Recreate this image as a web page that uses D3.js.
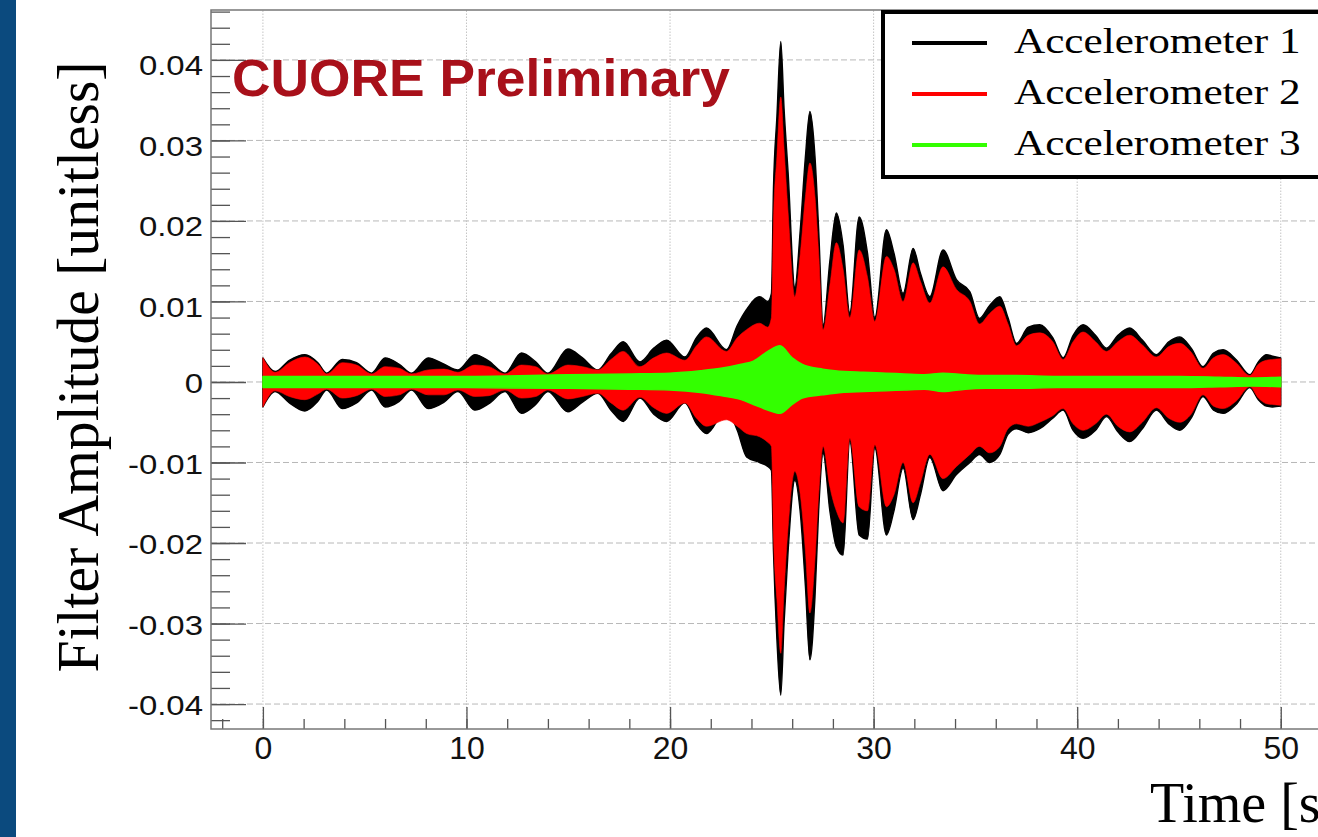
<!DOCTYPE html>
<html>
<head>
<meta charset="utf-8">
<script src="https://cdn.jsdelivr.net/npm/d3@7"></script>
<style>
  body { margin: 0; background: #fff; overflow: hidden; }
</style>
</head>
<body>
<div id="chart"></div>
<script>
// envelope sample times [s] for accelerometers 1 and 2
const times = [0, 0.6, 1.3, 2.06, 2.7, 3.13, 3.9, 4.6, 5.34, 6.0,
  6.7, 7.3, 8.12, 8.9, 9.58, 10.41, 11.1, 11.89, 12.7, 13.4,
  14.0, 14.98, 15.7, 16.45, 17.1, 17.7, 18.52, 19.2, 19.83, 20.73,
  21.3, 21.79, 22.77, 23.3, 23.76, 24.4, 24.8, 24.98, 25.08, 25.25,
  25.44, 25.6, 25.8, 26.13, 26.4, 26.65, 26.87, 27.12, 27.3, 27.52,
  27.85, 28.17, 28.5, 28.83, 29.29, 29.7, 30.06, 30.63, 31.0, 31.45,
  31.94, 32.3, 32.76, 33.41, 34.07, 34.73, 35.2, 35.7, 36.2, 36.6,
  37.02, 37.6, 38.16, 38.8, 39.31, 39.8, 40.29, 40.9, 41.44, 42.0,
  42.58, 43.2, 43.89, 44.5, 45.04, 45.6, 46.18, 46.7, 47.17, 47.8,
  48.48, 48.9, 49.3, 49.6, 50.0];

// Accelerometer 1 (black) upper / lower envelope
const acc1Top = [0.0030, 0.0013, 0.0027, 0.0034, 0.0024, 0.0011, 0.0028, 0.0024, 0.0011, 0.0030,
  0.0022, 0.0011, 0.0030, 0.0022, 0.0015, 0.0034, 0.0026, 0.0011, 0.0036, 0.0025,
  0.0011, 0.0041, 0.0030, 0.0015, 0.0035, 0.0050, 0.0025, 0.0042, 0.0052, 0.0031,
  0.0055, 0.0067, 0.0040, 0.0070, 0.0090, 0.0106, 0.0100, 0.0110, 0.0240, 0.0330,
  0.0423, 0.0340, 0.0260, 0.0118, 0.0190, 0.0280, 0.0336, 0.0280, 0.0190, 0.0071,
  0.0150, 0.0210, 0.0170, 0.0086, 0.0205, 0.0160, 0.0080, 0.0189, 0.0160, 0.0110,
  0.0166, 0.0135, 0.0106, 0.0164, 0.0127, 0.0112, 0.0079, 0.0095, 0.0106, 0.0080,
  0.0048, 0.0068, 0.0071, 0.0055, 0.0030, 0.0058, 0.0071, 0.0058, 0.0042, 0.0058,
  0.0067, 0.0052, 0.0034, 0.0050, 0.0056, 0.0042, 0.0019, 0.0036, 0.0040, 0.0028,
  0.0009, 0.0025, 0.0034, 0.0032, 0.0030];
const acc1Bot = [-0.0031, -0.0012, -0.0026, -0.0036, -0.0024, -0.0010, -0.0033, -0.0026, -0.0010, -0.0031,
  -0.0024, -0.0010, -0.0033, -0.0025, -0.0012, -0.0035, -0.0027, -0.0012, -0.0039, -0.0028,
  -0.0012, -0.0037, -0.0025, -0.0014, -0.0035, -0.0049, -0.0020, -0.0040, -0.0049, -0.0026,
  -0.0052, -0.0064, -0.0035, -0.0060, -0.0093, -0.0100, -0.0105, -0.0110, -0.0210, -0.0320,
  -0.0389, -0.0300, -0.0210, -0.0122, -0.0163, -0.0254, -0.0345, -0.0267, -0.0160, -0.0089,
  -0.0160, -0.0205, -0.0215, -0.0074, -0.0190, -0.0195, -0.0082, -0.0190, -0.0160, -0.0107,
  -0.0171, -0.0140, -0.0094, -0.0135, -0.0115, -0.0100, -0.0090, -0.0100, -0.0090, -0.0065,
  -0.0058, -0.0063, -0.0058, -0.0045, -0.0035, -0.0060, -0.0070, -0.0060, -0.0043, -0.0062,
  -0.0074, -0.0058, -0.0035, -0.0052, -0.0060, -0.0045, -0.0018, -0.0035, -0.0039, -0.0028,
  -0.0007, -0.0022, -0.0030, -0.0031, -0.0030];

// Accelerometer 2 (red)
const acc2Top = [0.0030, 0.0012, 0.0024, 0.0031, 0.0022, 0.0010, 0.0024, 0.0021, 0.0010, 0.0019,
  0.0017, 0.0010, 0.0015, 0.0016, 0.0012, 0.0021, 0.0019, 0.0010, 0.0021, 0.0019,
  0.0010, 0.0021, 0.0019, 0.0015, 0.0028, 0.0038, 0.0019, 0.0030, 0.0036, 0.0027,
  0.0045, 0.0056, 0.0038, 0.0055, 0.0065, 0.0073, 0.0068, 0.0080, 0.0200, 0.0280,
  0.0354, 0.0290, 0.0210, 0.0106, 0.0160, 0.0230, 0.0272, 0.0230, 0.0160, 0.0065,
  0.0120, 0.0173, 0.0140, 0.0080, 0.0164, 0.0130, 0.0075, 0.0156, 0.0140, 0.0100,
  0.0148, 0.0125, 0.0098, 0.0143, 0.0115, 0.0100, 0.0072, 0.0085, 0.0094, 0.0072,
  0.0045, 0.0058, 0.0061, 0.0050, 0.0028, 0.0050, 0.0062, 0.0050, 0.0038, 0.0050,
  0.0058, 0.0046, 0.0031, 0.0044, 0.0048, 0.0037, 0.0017, 0.0030, 0.0034, 0.0024,
  0.0008, 0.0022, 0.0027, 0.0028, 0.0029];
const acc2Bot = [-0.0031, -0.0011, -0.0018, -0.0022, -0.0015, -0.0009, -0.0020, -0.0017, -0.0009, -0.0018,
  -0.0016, -0.0009, -0.0016, -0.0016, -0.0010, -0.0018, -0.0017, -0.0010, -0.0020, -0.0018,
  -0.0010, -0.0021, -0.0018, -0.0014, -0.0026, -0.0035, -0.0019, -0.0032, -0.0039, -0.0026,
  -0.0045, -0.0055, -0.0047, -0.0055, -0.0064, -0.0068, -0.0075, -0.0080, -0.0190, -0.0270,
  -0.0337, -0.0260, -0.0180, -0.0111, -0.0140, -0.0210, -0.0287, -0.0220, -0.0140, -0.0080,
  -0.0130, -0.0160, -0.0175, -0.0070, -0.0155, -0.0160, -0.0078, -0.0155, -0.0140, -0.0100,
  -0.0150, -0.0125, -0.0090, -0.0120, -0.0105, -0.0090, -0.0080, -0.0088, -0.0080, -0.0058,
  -0.0052, -0.0055, -0.0050, -0.0042, -0.0033, -0.0052, -0.0060, -0.0052, -0.0040, -0.0055,
  -0.0062, -0.0050, -0.0032, -0.0045, -0.0050, -0.0040, -0.0016, -0.0030, -0.0033, -0.0024,
  -0.0006, -0.0020, -0.0027, -0.0028, -0.0029];

// Accelerometer 3 (green) has its own, coarser sampling
const times3 = [0, 5, 10, 15, 18, 20, 21.5, 22.5, 23.5, 24.1,
  24.8, 25.4, 26.0, 26.5, 27.5, 28.1, 29.5, 30.6, 31.5, 32.5,
  33.4, 34.5, 35.5, 37, 39, 41, 43, 45, 47, 48.6, 50];
const acc3Top = [0.0007, 0.0007, 0.0007, 0.0009, 0.0010, 0.0011, 0.0014, 0.0017, 0.0022, 0.0026,
  0.0038, 0.0045, 0.0030, 0.0022, 0.0016, 0.0014, 0.0012, 0.0011, 0.0010, 0.0009,
  0.0011, 0.0009, 0.0008, 0.0008, 0.0007, 0.0007, 0.0007, 0.0007, 0.0006, 0.0005, 0.0006];
const acc3Bot = [-0.0007, -0.0007, -0.0007, -0.0008, -0.0009, -0.0010, -0.0013, -0.0017, -0.0022, -0.0028,
  -0.0035, -0.0039, -0.0028, -0.0020, -0.0016, -0.0014, -0.0012, -0.0011, -0.0010, -0.0009,
  -0.0012, -0.0009, -0.0008, -0.0008, -0.0007, -0.0007, -0.0007, -0.0007, -0.0006, -0.0005, -0.0006];

const series = ["Accelerometer 1", "Accelerometer 2", "Accelerometer 3"];
const colors = ["#000000", "#ff0000", "#33ff00"];

const xTicks = [0, 10, 20, 30, 40, 50];
const yTicks = [-0.04, -0.03, -0.02, -0.01, 0, 0.01, 0.02, 0.03, 0.04];
const yTickLabels = ["-0.04", "-0.03", "-0.02", "-0.01", "0", "0.01", "0.02", "0.03", "0.04"];

// page
var W = 1318, H = 837;
var svg = d3.select("#chart").append("svg").attr("width", W).attr("height", H);
svg.append("rect").attr("width", W).attr("height", H).attr("fill", "#fff");
svg.append("rect").attr("x", 0).attr("y", 0).attr("width", 16).attr("height", H).attr("fill", "#0b4a7e");

// frame range (ROOT style, axis extends a bit past the data)
var x = d3.scaleLinear().domain([-2.55, 53.5]).range([211, 1352]);
var y = d3.scaleLinear().domain([-0.0431, 0.0462]).range([729, 10]);

// grid
var grid = svg.append("g");
grid.selectAll(".hg").data(yTicks).enter().append("line")
  .attr("x1", x.range()[0]).attr("x2", x.range()[1])
  .attr("y1", d => y(d)).attr("y2", d => y(d))
  .attr("stroke", "#b8b8b8").attr("stroke-width", 1).attr("stroke-dasharray", "6,3");
grid.selectAll(".vg").data(xTicks).enter().append("line")
  .attr("x1", d => x(d)).attr("x2", d => x(d))
  .attr("y1", y.range()[0]).attr("y2", y.range()[1])
  .attr("stroke", "#c4c4c4").attr("stroke-width", 1).attr("stroke-dasharray", "1.5,1.5");

// envelopes
function rows(ts, hi, lo) { return ts.map((t, i) => ({t: t, hi: hi[i], lo: lo[i]})); }
var area = d3.area()
  .x(d => x(d.t)).y0(d => y(d.lo)).y1(d => y(d.hi))
  .curve(d3.curveMonotoneX);

var env = [rows(times, acc1Top, acc1Bot), rows(times, acc2Top, acc2Bot), rows(times3, acc3Top, acc3Bot)];
svg.append("g").selectAll("path").data(env).enter().append("path")
  .attr("d", area)
  .attr("fill", (d, i) => colors[i])
  .attr("stroke", (d, i) => colors[i])
  .attr("stroke-width", (d, i) => i == 1 ? 0.6 : 1.4)
  .attr("stroke-linejoin", "round");

// axes
var tickCol = "#555";
var yMinor = svg.append("g").attr("transform", "translate(" + x.range()[0] + ",0)")
  .call(d3.axisLeft(y).tickValues(d3.range(-42, 47, 2).map(v => v / 1000)).tickSize(-19).tickFormat(""));
var yMajor = svg.append("g").attr("transform", "translate(" + x.range()[0] + ",0)")
  .call(d3.axisLeft(y).tickValues(yTicks).tickSizeInner(-35).tickSizeOuter(0).tickPadding(8)
    .tickFormat((d, i) => yTickLabels[i]));
yMajor.selectAll("text")
  .attr("font-family", "'Liberation Sans', Arial, sans-serif").attr("font-size", 27).attr("fill", "#111")
  .attr("x", -8 / 1.22).attr("dy", d => d > 0 ? "0.55em" : "0.4em").attr("transform", "scale(1.22,1)");

var xMinor = svg.append("g").attr("transform", "translate(0," + y.range()[0] + ")")
  .call(d3.axisBottom(x).tickValues(d3.range(-2, 53, 2)).tickSize(-10).tickFormat(""));
var xMajor = svg.append("g").attr("transform", "translate(0," + y.range()[0] + ")")
  .call(d3.axisBottom(x).tickValues(xTicks).tickSizeInner(-22).tickSizeOuter(0).tickPadding(7).tickFormat(d3.format("d")));
xMajor.selectAll("text")
  .attr("font-family", "'Liberation Sans', Arial, sans-serif").attr("font-size", 32).attr("fill", "#111");

[yMinor, yMajor, xMinor, xMajor].forEach(g => {
  g.select(".domain").remove();
  g.selectAll("line").attr("stroke", tickCol).attr("stroke-width", 1.3);
});

// frame
svg.append("rect")
  .attr("x", x.range()[0]).attr("y", y.range()[1])
  .attr("width", x.range()[1] - x.range()[0]).attr("height", y.range()[0] - y.range()[1])
  .attr("fill", "none").attr("stroke", "#777").attr("stroke-width", 1.5);

// titles
svg.append("text")
  .attr("transform", "translate(98,367) rotate(-90)")
  .attr("text-anchor", "middle")
  .attr("font-family", "'Liberation Serif', 'Times New Roman', serif").attr("font-size", 60)
  .attr("textLength", 611).attr("lengthAdjust", "spacingAndGlyphs")
  .text("Filter Amplitude [unitless]");

// the x title runs past the right edge, as in the original slide
svg.append("text")
  .attr("x", 1150).attr("y", 822)
  .attr("font-family", "'Liberation Serif', 'Times New Roman', serif").attr("font-size", 56)
  .text("Time [s]");

svg.append("text")
  .attr("x", 232).attr("y", 96)
  .attr("font-family", "'Liberation Sans', Arial, sans-serif").attr("font-weight", "bold")
  .attr("font-size", 52).attr("fill", "#a8101a")
  .attr("textLength", 498).attr("lengthAdjust", "spacingAndGlyphs")
  .text("CUORE Preliminary");

// legend
var legend = svg.append("g");
legend.append("rect")
  .attr("x", 883).attr("y", 12).attr("width", 520).attr("height", 165)
  .attr("fill", "#fff").attr("stroke", "#000").attr("stroke-width", 4);
var item = legend.selectAll(".item").data(series).enter().append("g")
  .attr("transform", (d, i) => "translate(0," + (43 + i * 51) + ")");
item.append("line")
  .attr("x1", 912).attr("x2", 987).attr("y1", 0).attr("y2", 0)
  .attr("stroke", (d, i) => colors[i]).attr("stroke-width", 4);
item.append("text")
  .attr("transform", "translate(1014,10) scale(1.2,1)")
  .attr("font-family", "'Liberation Serif', 'Times New Roman', serif").attr("font-size", 36)
  .text(d => d);
</script>
</body>
</html>
